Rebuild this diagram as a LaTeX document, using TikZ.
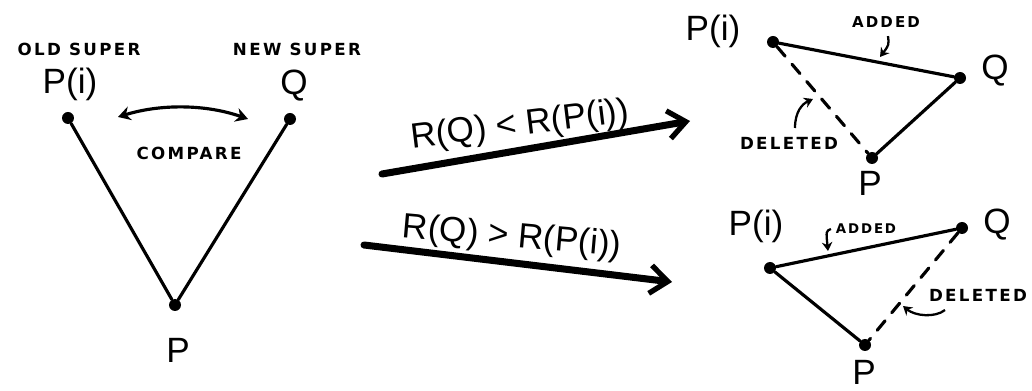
\documentclass[tikz,border=0pt]{standalone}
\usepackage{fontspec}
\setmainfont{Liberation Sans}
\newfontfamily\notefont[LetterSpace=14]{DejaVu Sans}
\usetikzlibrary{arrows.meta}
\begin{document}
\begin{tikzpicture}[x=0.02cm,y=-0.02cm,
  vertex/.style={circle,fill=black,inner sep=0pt,minimum size=0.24cm},
  biglabel/.style={font=\fontsize{20}{22}\selectfont},
  smalllabel/.style={font=\notefont\bfseries\fontsize{9.5}{11}\selectfont},
  edge/.style={line width=1.8pt,line cap=round},
  gone/.style={edge,dash pattern=on 7pt off 6pt},
  bigarrow/.style={line width=4pt,line cap=round,-{Straight Barb[length=10pt,width=16pt,line width=3pt]}},
  note/.style={line width=1.3pt,-{Stealth[length=5pt,width=6pt]}}]
\useasboundingbox (0,0) rectangle (1032,391);

% left: comparing the old and the new super
\node[smalllabel] (oldt) at (79,49) {OLD SUPER};
\node[smalllabel] (newt) at (297,49) {NEW SUPER};
\node[biglabel] (piL) at (70,84) {P(i)};
\node[biglabel] (qL) at (294,86) {Q};
\node[vertex] (a) at (68,118) {};
\node[vertex] (b) at (290,119) {};
\node[vertex] (c) at (175,305) {};
\node[biglabel] (pL) at (178,350) {P};
\draw[edge] (a) -- (c) -- (b);
\coordinate (ca) at (118,117);
\coordinate (cb) at (248,119);
\draw[line width=1.8pt,{Stealth[length=7pt,width=8pt]}-{Stealth[length=7pt,width=8pt]}] (ca) .. controls (160,104) and (205,104) .. (cb);
\node[smalllabel] (cmp) at (189,153) {COMPARE};

% middle: the two outcomes
\coordinate (s1) at (382,174);
\coordinate (e1) at (690,121);
\draw[bigarrow] (s1) -- (e1);
\node[biglabel,rotate=7] (l1) at (520,126) {R(Q) < R(P(i))};
\coordinate (s2) at (364,245);
\coordinate (e2) at (672,282);
\draw[bigarrow] (s2) -- (e2);
\node[biglabel,rotate=-5] (l2) at (512,238) {R(Q) > R(P(i))};

% top right
\node[biglabel] (tpiL) at (713,31) {P(i)};
\node[vertex] (tpi) at (773,42) {};
\node[vertex] (tq) at (960,78) {};
\node[biglabel] (tqL) at (995,71) {Q};
\node[vertex] (tp) at (872,158) {};
\node[biglabel] (tpL) at (870,183) {P};
\draw[edge] (tpi) -- (tq) -- (tp);
\draw[gone] (tpi) -- (tp);
\node[smalllabel,scale=0.9] (tadd) at (886,22) {ADDED};
\coordinate (taddE) at (880,57);
\draw[note] (tadd.south) ++(2,3) .. controls (889,45) .. (taddE);
\node[smalllabel] (tdel) at (789,143) {DELETED};
\coordinate (tdelE) at (813,99);
\draw[note] (795,128) .. controls (795,112) and (802,104) .. (tdelE);

% bottom right
\node[biglabel] (bpiL) at (756,226) {P(i)};
\node[vertex] (bpi) at (770,268) {};
\node[vertex] (bq) at (962,228) {};
\node[biglabel] (bqL) at (997,225) {Q};
\node[vertex] (bp) at (865,345) {};
\node[biglabel] (bpL) at (864,372) {P};
\draw[edge] (bq) -- (bpi) -- (bp);
\draw[gone] (bq) -- (bp);
\node[smalllabel,scale=0.8] (badd) at (866,229) {ADDED};
\coordinate (baddE) at (828,251);
\draw[note] (badd.west) .. controls (826,231) .. (baddE);
\node[smalllabel] (bdel) at (978,295) {DELETED};
\coordinate (bdelE) at (903,306);
\draw[note] (945,310) .. controls (935,318) and (915,316) .. (bdelE);
\end{tikzpicture}
\end{document}
